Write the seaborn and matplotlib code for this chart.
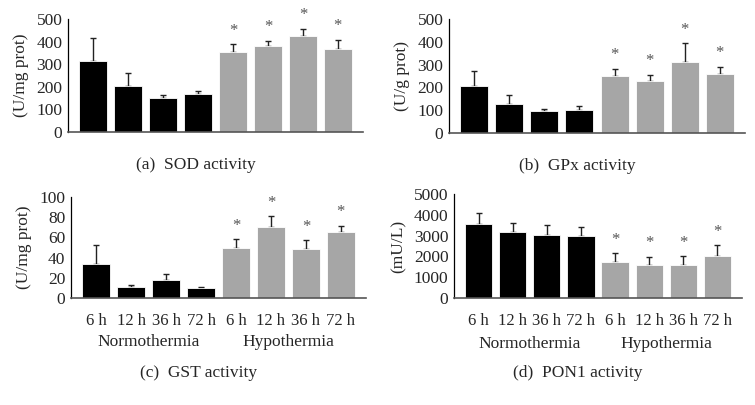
import matplotlib
matplotlib.use('Agg')
import matplotlib.pyplot as plt
import seaborn as sns
import pandas as pd

sns.set_style('white')
plt.rcParams['font.family'] = ['Liberation Serif', 'DejaVu Serif']

TIMES = ['6 h', '12 h', '36 h', '72 h']
GROUPS = ['Normothermia', 'Hypothermia']

# means and upper error (SD), 4 normothermia then 4 hypothermia
SOD = [315, 205, 150, 167, 355, 380, 425, 367]
SOD_ERR = [100, 57, 14, 13, 33, 24, 31, 40]
GPX = [205, 128, 95, 103, 248, 228, 310, 257]
GPX_ERR = [68, 38, 10, 17, 34, 28, 83, 33]
GST = [33.5, 11, 17.5, 10, 50, 70, 49, 65]
GST_ERR = [19, 2, 6, 1.3, 8, 11, 8, 6.5]
PON1 = [3570, 3170, 3020, 2975, 1750, 1600, 1600, 2000]
PON1_ERR = [510, 430, 480, 450, 400, 370, 400, 540]
STARS = [False] * 4 + [True] * 4

PANELS = [
    ('(a)  SOD activity', '(U/mg prot)', SOD, SOD_ERR, [0, 100, 200, 300, 400, 500], False),
    ('(b)  GPx activity', '(U/g prot)', GPX, GPX_ERR, [0, 100, 200, 300, 400, 500], False),
    ('(c)  GST activity', '(U/mg prot)', GST, GST_ERR, [0, 20, 40, 60, 80, 100], True),
    ('(d)  PON1 activity', '(mU/L)', PON1, PON1_ERR, [0, 1000, 2000, 3000, 4000, 5000], True),
]

# axes boxes in pixels: left, top, right, bottom
BOXES = [(68, 19, 363, 132), (449, 19, 745, 133), (71, 197, 366, 298), (454, 194, 742, 298)]

W, H = 755, 405
fig = plt.figure(figsize=(W / 100, H / 100), dpi=100)

BLACK = '#000000'
GREY = '#a6a6a6'
FS = 12.5

for (caption, ylabel, vals, errs, yticks, show_x), (l, t, r, b) in zip(PANELS, BOXES):
    ax = fig.add_axes([l / W, 1 - b / H, (r - l) / W, (b - t) / H])
    df = pd.DataFrame({
        'pos': [f'{g[0]}{tm}' for g in GROUPS for tm in TIMES],
        'group': [g for g in GROUPS for _ in TIMES],
        'value': vals,
    })
    sns.barplot(data=df, x='pos', y='value', hue='group', dodge=False,
                palette=[BLACK, GREY], width=0.8, edgecolor='white',
                linewidth=0.6, legend=False, ax=ax, zorder=2)
    xs = list(range(len(vals)))
    ax.errorbar(xs, vals, yerr=[[0] * len(vals), errs], fmt='none',
                ecolor='#222222', elinewidth=1.0, capsize=2.5, capthick=1.0,
                zorder=1)
    top = yticks[-1]
    for x, v, e, s in zip(xs, vals, errs, STARS):
        if s:
            ax.annotate('*', (x, v + e), xytext=(0, 4), textcoords='offset points',
                        ha='center', va='bottom', fontsize=12, color='#555555')
    ax.set_xlim(-0.72, 7.72)
    ax.set_ylim(0, top)
    ax.set_yticks(yticks)
    ax.set_yticklabels([str(v) for v in yticks], fontsize=FS)
    ax.tick_params(axis='both', length=0, pad=4)
    ax.set_ylabel(ylabel, fontsize=FS, labelpad=5)
    ax.set_xlabel('')
    for side in ['top', 'right']:
        ax.spines[side].set_visible(False)
    ax.spines['left'].set_color('#000000')
    ax.spines['bottom'].set_color('#555555')
    ax.spines['left'].set_linewidth(0.9)
    ax.spines['bottom'].set_linewidth(1.2)
    if show_x:
        ax.set_xticks(xs)
        ax.set_xticklabels(TIMES + TIMES, fontsize=12)
        ax.tick_params(axis='x', pad=11)
        ax.text(1.5, -0.44, GROUPS[0], transform=ax.get_xaxis_transform(),
                ha='center', va='center', fontsize=FS)
        ax.text(5.5, -0.44, GROUPS[1], transform=ax.get_xaxis_transform(),
                ha='center', va='center', fontsize=FS)
        cap_y = b + 75
    else:
        ax.set_xticks([])
        cap_y = b + 33
    fig.text(((l + r) / 2 - 20) / W, 1 - cap_y / H, caption, ha='center',
             va='center', fontsize=FS)

fig.savefig('out.png', dpi=100)
